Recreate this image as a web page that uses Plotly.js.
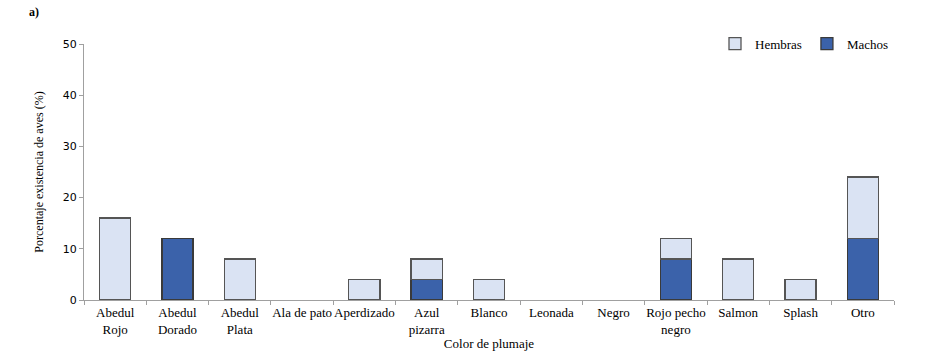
<!DOCTYPE html>
<html><head><meta charset="utf-8">
<script src="https://cdn.plot.ly/plotly-3.0.1.min.js"></script>
<style>body{margin:0;background:#fff}#c{width:926px;height:357px}</style>
</head><body><div id="c"></div>
<script>
var categories = ["Abedul<br>Rojo","Abedul<br>Dorado","Abedul<br>Plata","Ala de pato","Aperdizado","Azul<br>pizarra","Blanco","Leonada","Negro","Rojo pecho<br>negro","Salmon","Splash","Otro"];
var machos  = [0,12,0,0,0,4,0,0,0,8,0,0,12];
var hembras = [16,0,8,0,4,4,4,0,0,4,8,4,12];

var serif = "Liberation Serif";
function nz(a){ return a.map(function(v){ return v === 0 ? null : v; }); }
var traces = [
  {type:"bar", name:"Machos", x:categories, y:nz(machos),
   marker:{color:"#3b62aa", line:{color:"#3a3a3a", width:1.3}}},
  {type:"bar", name:"Hembras", x:categories, y:nz(hembras),
   marker:{color:"#dae3f3", line:{color:"#555555", width:1.3}}}
];
var layout = {
  width:926, height:357,
  margin:{l:84, r:32, t:44, b:57},
  barmode:"stack", bargap:0.5,
  paper_bgcolor:"#fff", plot_bgcolor:"#fff",
  showlegend:true,
  legend:{orientation:"h", x:1.0, xanchor:"right", y:1.06, yanchor:"top",
          traceorder:"reversed", itemwidth:30, font:{family:serif, size:13, color:"#000"}},
  xaxis:{type:"category", showline:true, linecolor:"#a0a0a0", linewidth:1,
         ticks:"outside", tickson:"boundaries", ticklen:4, tickcolor:"#a0a0a0",
         tickfont:{family:serif, size:13, color:"#000"}, tickangle:0,
         title:{text:"Color de plumaje", font:{family:serif, size:13, color:"#000"}, standoff:0}},
  yaxis:{range:[0,50], dtick:10, showline:true, linecolor:"#a0a0a0", linewidth:1,
         ticks:"outside", ticklen:4, tickcolor:"#a0a0a0", showgrid:false, zeroline:false,
         tickfont:{family:"DejaVu Sans", size:11, color:"#000"},
         title:{text:"Porcentaje existencia de aves (%)", font:{family:serif, size:12, color:"#000"}, standoff:16}},
  annotations:[{text:"<b>a)</b>", xref:"paper", yref:"paper", x:-0.07, y:1.16, xanchor:"left", yanchor:"top",
                showarrow:false, font:{family:serif, size:12, color:"#000"}}]
};
Plotly.newPlot("c", traces, layout, {displayModeBar:false});
</script></body></html>
